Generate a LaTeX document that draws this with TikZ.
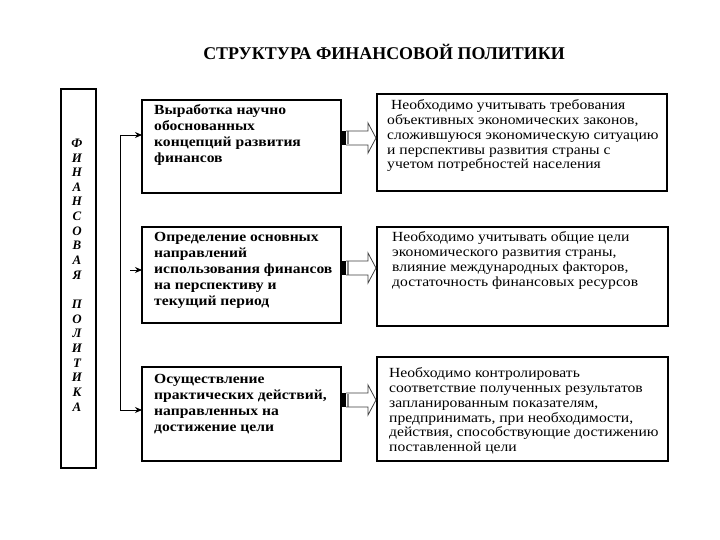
\documentclass[tikz,border=0pt]{standalone}
\usepackage{fontspec}
\setmainfont{Liberation Serif}
\newfontfamily\rfont[FakeStretch=1.12]{Liberation Serif}
\usetikzlibrary{arrows.meta}
\tikzset{
  blockarrow/.pic={
    \fill[black] (0,-7) rectangle (5,7);
    \draw[black!45, line width=1.2bp] (7,-6.5) -- (7,6.5);
    \draw[line width=0.8bp, black!75, line join=miter]
      (5,-7) -- (27,-7) -- (27,-15) -- (35,0) -- (27,15) -- (27,7) -- (5,7);
  }
}
\begin{document}
\begin{tikzpicture}[x=1bp,y=-1bp,
  box/.style={draw, line width=1.2bp, inner sep=0pt, outer sep=0pt, anchor=north west},
  ltext/.style={anchor=north west, inner sep=0pt, align=left, font=\fontsize{14}{16}\rfont\bfseries},
  rtext/.style={anchor=north west, inner sep=0pt, align=left, font=\fontsize{14}{15}\rfont},
  tip/.style={-{Stealth[length=7bp,width=6bp]}, line width=0.9bp}
]
\fill[white] (0,0) rectangle (720,540);
\useasboundingbox (0,0) rectangle (720,540);

% title
\node[font=\fontsize{18}{20}\selectfont\bfseries, inner sep=0pt] (title) at (384,52) {СТРУКТУРА ФИНАНСОВОЙ ПОЛИТИКИ};

% side box
\node[box, minimum width=35bp, minimum height=379bp] (side) at (61,89) {};
\node[font=\fontsize{13}{14.7}\selectfont\bfseries\itshape, align=center, inner sep=0pt] (vt) at (77,275)
  {Ф\\И\\Н\\А\\Н\\С\\О\\В\\А\\Я\\[14.7bp]П\\О\\Л\\И\\Т\\И\\К\\А};

% left boxes
\node[box, minimum width=199bp, minimum height=93bp] (l1) at (142,100) {};
\node[box, minimum width=199bp, minimum height=96bp] (l2) at (142,227) {};
\node[box, minimum width=199bp, minimum height=94bp] (l3) at (142,367) {};
\node[ltext] (t1) at (154,104) {Выработка научно\\обоснованных\\концепций развития\\финансов};
\node[ltext] (t2) at (154,232) {Определение основных\\направлений\\использования финансов\\на перспективу  и\\текущий период};
\node[ltext] (t3) at (154,374) {Осуществление\\практических действий,\\направленных на\\достижение цели};

% right boxes
\node[box, minimum width=290bp, minimum height=97bp] (r1) at (377,94) {};
\node[box, minimum width=291bp, minimum height=99bp] (r2) at (377,227) {};
\node[box, minimum width=291bp, minimum height=104bp] (r3) at (377,357) {};
\node[rtext] (s1) at (387,99) {\ Необходимо учитывать требования\\объективных экономических законов,\\сложившуюся экономическую ситуацию\\и перспективы развития  страны с\\учетом потребностей населения};
\node[rtext] (s2) at (392,231) {Необходимо учитывать общие цели\\экономического развития страны,\\влияние международных факторов,\\достаточность  финансовых ресурсов};
\node[rtext] (s3) at (389,367) {Необходимо контролировать\\соответствие полученных результатов\\запланированным показателям,\\предпринимать, при необходимости,\\действия, способствующие достижению\\поставленной цели};

% bracket
\coordinate (bt) at (120,135);
\coordinate (bb) at (120,410);
\coordinate (bm) at (130,270);
\draw[line width=0.9bp] (bt) -- (bb);
\draw[tip] (bt) -- (bt -| l1.west);
\draw[tip] (bb) -- (bb -| l3.west);
\draw[tip] (bm) -- (bm -| l2.west);

% block arrows
\coordinate (a1) at (341,138);
\coordinate (a2) at (341,268);
\coordinate (a3) at (341,400);
\pic at (a1) {blockarrow};
\pic at (a2) {blockarrow};
\pic at (a3) {blockarrow};
\end{tikzpicture}
\end{document}
